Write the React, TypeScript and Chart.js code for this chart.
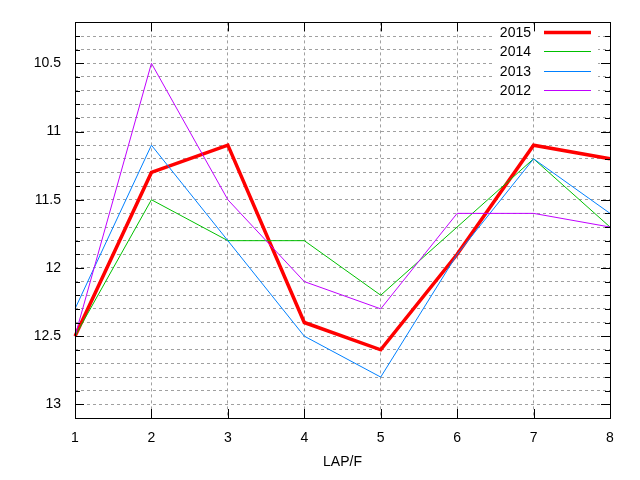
import { useEffect, useRef } from "react"
import { Chart, registerables } from "chart.js"

Chart.register(...registerables)

const laps = ["1", "2", "3", "4", "5", "6", "7", "8"]
const series2015 = [12.5, 11.3, 11.1, 12.4, 12.6, 11.9, 11.1, 11.2]
const series2014 = [12.5, 11.5, 11.8, 11.8, 12.2, 11.7, 11.2, 11.7]
const series2013 = [12.3, 11.1, 11.8, 12.5, 12.8, 11.9, 11.2, 11.6]
const series2012 = [12.5, 10.5, 11.5, 12.1, 12.3, 11.6, 11.6, 11.7]
const yMajorTicks = [10.5, 11, 11.5, 12, 12.5, 13]

const FONT = "'Liberation Sans', Arial, Helvetica, sans-serif"

// gnuplot style frame, inward ticks and the key in the top right corner
const gnuplotPlugin = {
  id: "gnuplotFrame",
  afterDatasetsDraw(chart: any) {
    const { ctx, chartArea } = chart
    const { left, right, top, bottom } = chartArea
    const y = chart.scales.y
    const x = chart.scales.x
    const sets = chart.data.datasets
    ctx.save()

    // key background hides the grid behind it
    ctx.fillStyle = "#fff"
    ctx.fillRect(493, top + 2, 105, 78)

    ctx.strokeStyle = "#000"
    ctx.lineWidth = 1
    ctx.beginPath()
    y.ticks.forEach((t: any) => {
      const py = Math.round(y.getPixelForValue(t.value)) + 0.5
      const len = yMajorTicks.some((m) => Math.abs(m - t.value) < 1e-6) ? 9 : 5
      ctx.moveTo(left, py)
      ctx.lineTo(left + len, py)
      ctx.moveTo(right, py)
      ctx.lineTo(right - len, py)
    })
    x.ticks.forEach((_t: any, i: number) => {
      const px = Math.round(x.getPixelForTick(i)) + 0.5
      ctx.moveTo(px, bottom)
      ctx.lineTo(px, bottom - 9)
      ctx.moveTo(px, top)
      ctx.lineTo(px, top + 9)
    })
    ctx.stroke()
    ctx.strokeRect(Math.round(left) + 0.5, Math.round(top) + 0.5, Math.round(right - left), Math.round(bottom - top))

    ctx.font = `14px ${FONT}`
    ctx.textAlign = "right"
    ctx.textBaseline = "middle"
    sets.forEach((ds: any, i: number) => {
      const cy = Math.round(32 + i * 19.4)
      ctx.fillStyle = "#000"
      ctx.fillText(ds.label, 531, cy + 1)
      ctx.strokeStyle = ds.borderColor
      ctx.lineWidth = ds.borderWidth
      ctx.beginPath()
      ctx.moveTo(544, cy + 0.5)
      ctx.lineTo(591, cy + 0.5)
      ctx.stroke()
    })
    ctx.restore()
  },
}

export default function App() {
  const canvasRef = useRef<HTMLCanvasElement>(null)

  useEffect(() => {
    if (!canvasRef.current) return
    Chart.defaults.font.family = FONT
    Chart.defaults.font.size = 14
    Chart.defaults.color = "#000"

    const chart = new Chart(canvasRef.current, {
      type: "line",
      data: {
        labels: laps,
        datasets: [
          { label: "2015", data: series2015, borderColor: "#ff0000", borderWidth: 3.5, order: 4 },
          { label: "2014", data: series2014, borderColor: "#00c000", borderWidth: 1, order: 3 },
          { label: "2013", data: series2013, borderColor: "#0080ff", borderWidth: 1, order: 2 },
          { label: "2012", data: series2012, borderColor: "#c000ff", borderWidth: 1, order: 1 },
        ].map((d) => ({ ...d, pointRadius: 0, tension: 0, fill: false, borderJoinStyle: "miter" as const })),
      },
      options: {
        responsive: false,
        animation: false,
        events: [],
        layout: { padding: { top: 20, right: 30, left: 0, bottom: 0 } },
        plugins: {
          legend: { display: false },
          tooltip: { enabled: false },
        },
        scales: {
          x: {
            offset: false,
            grid: { offset: false, color: "#a0a0a0", drawTicks: false },
            border: { display: false, dash: [3, 3] },
            ticks: { padding: 12, maxRotation: 0, autoSkip: false },
            title: { display: true, text: "LAP/F", padding: { top: 9, bottom: 9 } },
            afterFit: (s: any) => {
              s.height = 62
            },
          },
          y: {
            reverse: true,
            min: 10.2,
            max: 13.1,
            grid: { color: "#a0a0a0", drawTicks: false },
            border: { display: false, dash: [3, 3] },
            ticks: {
              stepSize: 0.1,
              autoSkip: false,
              padding: 14,
              callback: (v: any) => {
                const m = yMajorTicks.find((t) => Math.abs(t - Number(v)) < 1e-6)
                return m === undefined ? "" : String(m)
              },
            },
            afterFit: (s: any) => {
              s.width = 75
            },
          },
        },
      },
      plugins: [gnuplotPlugin],
    })

    return () => {
      chart.destroy()
    }
  }, [])

  return (
    <div style={{ position: "absolute", left: 0, top: 0, width: 640, height: 480, background: "#fff" }}>
      <canvas ref={canvasRef} width={640} height={480}></canvas>
    </div>
  )
}
